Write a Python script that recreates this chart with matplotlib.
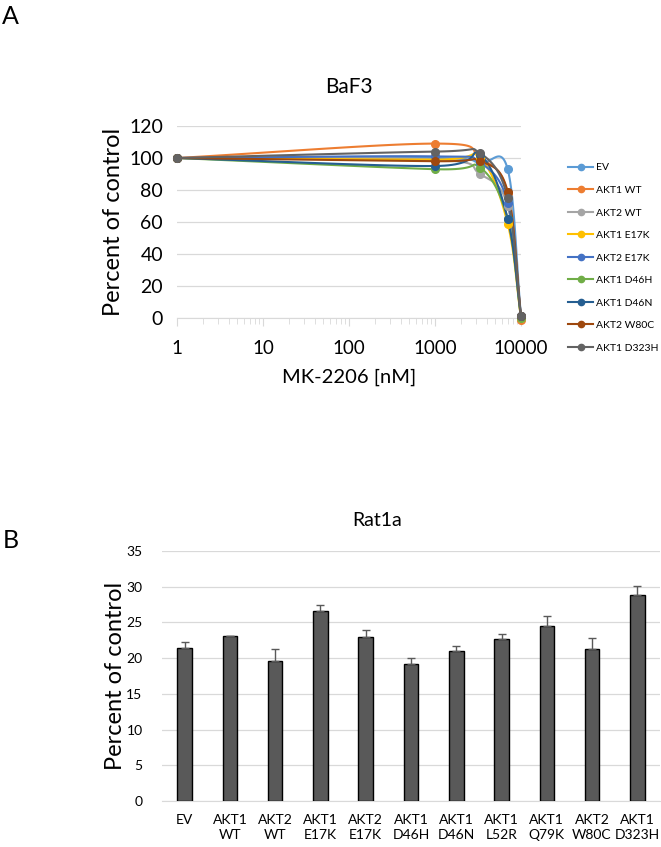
import numpy as np
import matplotlib
matplotlib.use("Agg")
import matplotlib.pyplot as plt
from matplotlib.ticker import LogLocator, NullFormatter, FixedLocator

plt.rcParams['font.family'] = ['Lato', 'DejaVu Sans']

# Panel A: BaF3 dose response
dose = [1, 1000, 3333, 7000, 10000]
series_names = ["EV", "AKT1 WT", "AKT2 WT", "AKT1 E17K", "AKT2 E17K",
                "AKT1 D46H", "AKT1 D46N", "AKT2 W80C", "AKT1 D323H"]
ev = [100, 100, 97, 93, 1]
akt1_wt = [100, 109, 100, 78, -1]
akt2_wt = [100, 99, 90, 70, 0]
akt1_e17k = [100, 99, 100, 59, 0]
akt2_e17k = [100, 101, 97, 72, 1]
akt1_d46h = [100, 93, 94, 62, 0]
akt1_d46n = [100, 95, 102, 62, 1]
akt2_w80c = [100, 98, 98, 79, 1]
akt1_d323h = [100, 104, 103, 75, 1]
series_vals = [ev, akt1_wt, akt2_wt, akt1_e17k, akt2_e17k,
               akt1_d46h, akt1_d46n, akt2_w80c, akt1_d323h]
colors = ["#5B9BD5", "#ED7D31", "#A5A5A5", "#FFC000", "#4472C4",
          "#70AD47", "#255E91", "#9E480E", "#636363"]

# Panel B: Rat1a bars
bar_labels = ["EV", "AKT1\nWT", "AKT2\nWT", "AKT1\nE17K", "AKT2\nE17K",
              "AKT1\nD46H", "AKT1\nD46N", "AKT1\nL52R", "AKT1\nQ79K",
              "AKT2\nW80C", "AKT1\nD323H"]
bar_vals = [21.4, 23.05, 19.6, 26.55, 22.9, 19.15, 20.95, 22.65, 24.45, 21.25, 28.8]
bar_err = [0.85, 0.05, 1.65, 0.85, 1.0, 0.85, 0.7, 0.7, 1.4, 1.55, 1.25]


def smooth(xs, ys, n=30):
    # Catmull-Rom style bezier in log-x space, like Excel's smoothed lines
    lx = np.log10(xs)
    ys = np.asarray(ys, float)
    px = np.concatenate([[2 * lx[0] - lx[1]], lx, [2 * lx[-1] - lx[-2]]])
    py = np.concatenate([[2 * ys[0] - ys[1]], ys, [2 * ys[-1] - ys[-2]]])
    ox, oy = [], []
    t = np.linspace(0, 1, n)
    for i in range(1, len(px) - 2):
        p0, p1, p2, p3 = px[i - 1], px[i], px[i + 1], px[i + 2]
        q0, q1, q2, q3 = py[i - 1], py[i], py[i + 1], py[i + 2]
        c1x, c2x = p1 + (p2 - p0) / 6, p2 - (p3 - p1) / 6
        c1y, c2y = q1 + (q2 - q0) / 6, q2 - (q3 - q1) / 6
        bx = (1 - t) ** 3 * p1 + 3 * (1 - t) ** 2 * t * c1x + 3 * (1 - t) * t ** 2 * c2x + t ** 3 * p2
        by = (1 - t) ** 3 * q1 + 3 * (1 - t) ** 2 * t * c1y + 3 * (1 - t) * t ** 2 * c2y + t ** 3 * q2
        ox.extend(bx)
        oy.extend(by)
    return 10 ** np.array(ox), np.array(oy)


W, H = 661, 847
fig = plt.figure(figsize=(W / 100, H / 100), dpi=100)

grid_c = "#D9D9D9"

# ---- Panel A ----
ax1 = fig.add_axes([177 / W, 1 - 318 / H, (521 - 177) / W, (318 - 126) / H])
handles = []
for name, vals, c in zip(series_names, series_vals, colors):
    sx, sy = smooth(dose, vals)
    ax1.plot(sx, sy, color=c, lw=1.5, clip_on=False, zorder=3)
    ax1.plot(dose, vals, 'o', color=c, ms=5.5, clip_on=False, zorder=4)
    handles.append(plt.Line2D([], [], color=c, lw=1.5, marker='o', ms=4.5))

ax1.set_xscale('log')
ax1.set_xlim(1, 10000)
ax1.set_ylim(0, 120)
ax1.set_yticks(range(0, 121, 20))
ax1.yaxis.grid(True, color=grid_c, lw=0.9)
ax1.set_axisbelow(True)
ax1.xaxis.set_major_locator(FixedLocator([1, 10, 100, 1000, 10000]))
ax1.set_xticklabels(["1", "10", "100", "1000", "10000"])
ax1.xaxis.set_minor_locator(LogLocator(base=10, subs=np.arange(2, 10)))
ax1.xaxis.set_minor_formatter(NullFormatter())
for s in ["top", "right", "left"]:
    ax1.spines[s].set_visible(False)
ax1.spines["bottom"].set_color(grid_c)
ax1.tick_params(axis='x', which='major', length=6, color=grid_c, labelsize=13.5, pad=10)
ax1.tick_params(axis='x', which='minor', length=4, color=grid_c)
ax1.tick_params(axis='y', length=0, labelsize=14, pad=10)
ax1.set_ylabel("Percent of control", fontsize=17, labelpad=4)
ax1.set_xlabel("MK-2206 [nM]", fontsize=14.5, labelpad=8)
ax1.set_title("BaF3", fontsize=15, pad=24)

fig.legend(handles, series_names, loc='upper left',
           bbox_to_anchor=(564 / W, 1 - 159 / H), frameon=False,
           fontsize=7.5, handlelength=2.4, labelspacing=1.27, handletextpad=0.25,
           borderaxespad=0)

fig.text(2 / W, 1 - 24 / H, "A", fontsize=18)
fig.text(3 / W, 1 - 548 / H, "B", fontsize=18)

# ---- Panel B ----
ax2 = fig.add_axes([162 / W, 1 - 801 / H, (660 - 162) / W, (801 - 551) / H])
xpos = np.arange(len(bar_labels))
ax2.bar(xpos, bar_vals, width=0.32, color="#595959", edgecolor="black", lw=1.0, zorder=3)
ax2.errorbar(xpos, bar_vals, yerr=[np.zeros(len(bar_err)), bar_err], fmt='none',
             ecolor="#595959", elinewidth=1.0, capsize=3, capthick=1.0, zorder=4)
ax2.set_xlim(-0.5, len(bar_labels) - 0.5)
ax2.set_ylim(0, 35)
ax2.set_yticks(range(0, 36, 5))
ax2.yaxis.grid(True, color=grid_c, lw=0.9)
ax2.set_axisbelow(True)
ax2.set_xticks(xpos)
ax2.set_xticklabels(bar_labels, fontsize=10, linespacing=1.35)
for s in ["top", "right", "left"]:
    ax2.spines[s].set_visible(False)
ax2.spines["bottom"].set_color(grid_c)
ax2.tick_params(axis='x', length=0, pad=9)
ax2.tick_params(axis='y', length=0, labelsize=10, pad=14)
ax2.set_ylabel("Percent of control", fontsize=17, labelpad=0)
fig.text(377 / W, 1 - 520 / H, "Rat1a", fontsize=14, ha='center', va='center')

fig.savefig("out.png", dpi=100)
